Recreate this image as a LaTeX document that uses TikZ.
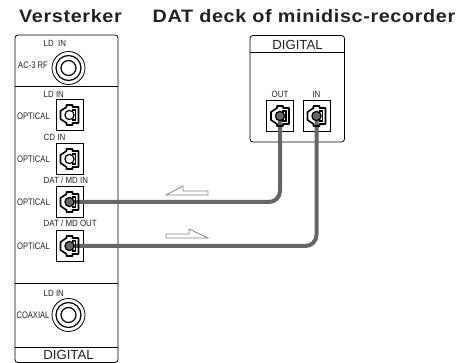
\documentclass[tikz,border=0pt]{standalone}
\usepackage{fontspec}
\setmainfont{Liberation Sans}
\begin{document}
\begin{tikzpicture}[x=1pt,y=-1pt]

% -------------------------------------------------------
% Layout parameters
% -------------------------------------------------------
\def\xL{15}     % left panel
\def\xR{118}
\def\xPl{250}   % right panel
\def\xPr{344.5}
\def\xOpt{69.5} % sockets, left panel
\def\xLbl{33.5} % OPTICAL labels
\def\xTop{43.5} % labels above the sockets

% colors
\definecolor{cCable}{HTML}{666666}
\definecolor{cText}{HTML}{222222}

\tikzset{
  panel/.style={draw=black, line width=0.8pt, rounded corners=3pt},
  sep/.style={draw=black, line width=0.8pt},
  title/.style={font=\fontsize{18}{18}\selectfont\bfseries\addfontfeature{FakeStretch=1.1,LetterSpace=3.5}, text=cText, inner sep=0pt},
  lbl/.style={font=\fontsize{9}{9}\selectfont\addfontfeature{FakeStretch=0.88}, text=cText, inner sep=0pt},
  toplbl/.style={lbl, anchor=west},
  side/.style={font=\fontsize{9.5}{9.5}\selectfont\addfontfeature{FakeStretch=0.8}, text=cText, inner sep=0pt},
  capt/.style={font=\fontsize{13.2}{13.2}\selectfont, text=cText, inner sep=0pt},
  optbox/.style={draw=black, line width=0.8pt, minimum width=27pt, minimum height=31pt, inner sep=0pt},
  coaxbox/.style={circle, draw=black, line width=0.8pt, minimum size=33pt, inner sep=0pt},
  cable/.style={draw=cCable, line width=4pt, rounded corners=11pt},
  flow/.style={draw=cCable!80, line width=0.8pt, fill=white},
}

% socket symbol, drawn at a named node
\newcommand{\optjack}[2]{
  \draw[black, line width=1.6pt, line join=round] ([shift={(-3,-10)}]#1.center) -- ++(6,0) -- ++(0,2) -- ++(6,0) -- ++(0,16) -- ++(-6,0) -- ++(0,2) -- ++(-6,0) -- ++(0,-2) -- ++(-6,-4) -- ++(0,-8) -- ++(6,-4) -- cycle;
  \draw[black, line width=1.1pt] ([shift={(2,-5)}]#1.center) -- ([shift={(6,-5)}]#1.center) -- ([shift={(6,5)}]#1.center) -- ([shift={(2,5)}]#1.center);
  \filldraw[fill=#2, draw=black, line width=1.2pt] (#1.center) circle (4.6);
}
\newcommand{\coaxjack}[1]{
  \draw[black, line width=1.2pt] (#1.center) circle (12.5);
  \draw[black, line width=1.2pt] (#1.center) circle (7.5);
}

\useasboundingbox (0,0) rectangle (464,363);

%%%%%% TITLES
\node[title] (ampTitle) at (70.5,16.5) {Versterker};
\node[title] (deckTitle) at (304,16.5) {DAT deck of minidisc-recorder};

%%%%%% LEFT PANEL
\draw[panel] (\xL,35) rectangle (\xR,362.5);
\draw[sep] (\xL,86) -- (\xR,86);
\draw[sep] (\xL,283) -- (\xR,283);
\draw[sep] (\xL,347) -- (\xR,347);
\node[capt] (ampDigital) at (68.5,355) {DIGITAL};

% coaxial
\node[coaxbox] (ldCoax) at (68.5,68) {};
\coaxjack{ldCoax}
\node[toplbl] (ldCoaxTop) at (\xTop,43) {LD\ \ IN};
\node[side] (ldCoaxLbl) at (33,65) {AC-3 RF};

\node[coaxbox] (dgCoax) at (68.5,315) {};
\coaxjack{dgCoax}
\node[toplbl] (dgCoaxTop) at (\xTop,293) {LD IN};
\node[side] (dgCoaxLbl) at (33,315) {COAXIAL};

% optical
\node[optbox] (optLd) at (\xOpt,115) {};
\node[optbox] (optCd) at (\xOpt,159) {};
\node[optbox] (optIn) at (\xOpt,202) {};
\node[optbox] (optOut) at (\xOpt,246) {};
\node[toplbl] at (\xTop,94) {LD IN};
\node[toplbl] at (\xTop,137) {CD IN};
\node[toplbl] at (\xTop,180) {DAT / MD IN};
\node[toplbl] at (\xTop,223.5) {DAT / MD OUT};
\foreach \y in {116,159,202,246} {
  \node[side] at (\xLbl,\y) {OPTICAL};
}

%%%%%% RIGHT PANEL
\draw[panel] (\xPl,35.5) rectangle (\xPr,142);
\draw[sep] (\xPl,52) -- (\xPr,52);
\node[capt] (deckDigital) at (297.5,45) {DIGITAL};
\node[optbox] (deckOut) at (280,116) {};
\node[optbox] (deckIn) at (316.5,116) {};
\node[lbl] at (280,94) {OUT};
\node[lbl] at (316.5,94) {IN};

%%%%%% CABLES
\draw[cable] (optIn.center) -| (deckOut.center);
\draw[cable] (optOut.center) -| (deckIn.center);

\foreach \s in {optLd,optCd} {
  \optjack{\s}{white}
}
\foreach \s in {optIn,optOut,deckOut,deckIn} {
  \optjack{\s}{cCable}
}

%%%%%% FLOW ARROWS
\draw[flow] (166,195) -- (183,186) -- (183,191) -- (208,191) -- (208,195) -- cycle;
\draw[flow] (208,238) -- (189,229) -- (189,234) -- (166,234) -- (166,238) -- cycle;

\end{tikzpicture}
\end{document}
